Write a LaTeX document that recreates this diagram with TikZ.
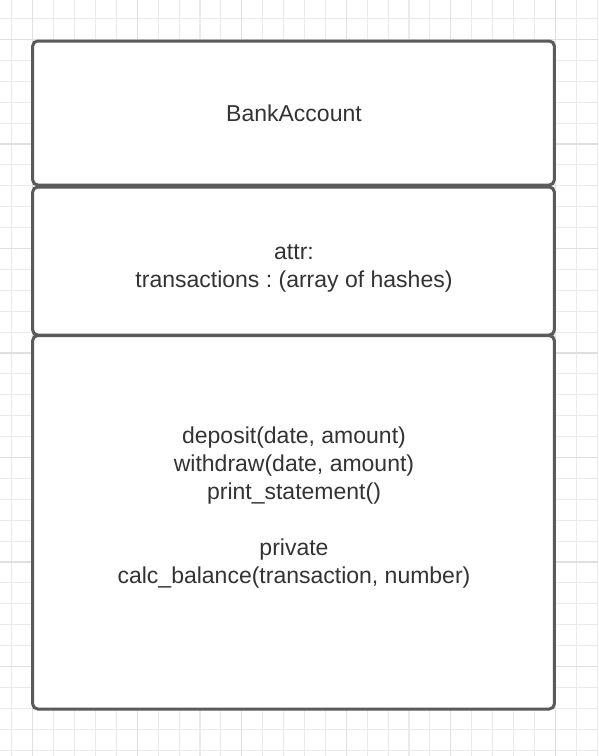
\documentclass[tikz,border=0pt]{standalone}
\usepackage{fontspec}
\setmainfont{Liberation Sans}
\frenchspacing
\definecolor{gridminor}{HTML}{EBEBEB}
\definecolor{gridmajor}{HTML}{E0E0E0}
\definecolor{boxline}{HTML}{5A5A5A}
\definecolor{txt}{HTML}{333333}
\tikzset{
  umlbox/.style={draw=boxline, line width=3pt, rounded corners=5pt, fill=white},
  umltext/.style={text=txt, font=\fontsize{23}{28}\selectfont, align=center, inner sep=0pt}
}
\begin{document}
\begin{tikzpicture}[x=1pt,y=-1pt]
\useasboundingbox (0,0) rectangle (598,756);
\fill[white] (0,0) rectangle (598,756);
% minor grid
\foreach \i in {0,...,28} {
  \draw[gridminor, line width=1.1pt] ({11.9+20.9*\i},0) -- ({11.9+20.9*\i},756);
}
\foreach \j in {0,...,35} {
  \draw[gridminor, line width=1.1pt] (0,{18.6+20.9*\j}) -- (598,{18.6+20.9*\j});
}
% major grid
\foreach \i in {0,...,5} {
  \draw[gridmajor, line width=1.1pt] ({32.8+104.5*\i},0) -- ({32.8+104.5*\i},756);
}
\foreach \j in {0,...,6} {
  \draw[gridmajor, line width=1.1pt] (0,{39.5+104.5*\j}) -- (598,{39.5+104.5*\j});
}
% boxes
\draw[umlbox] (32.7,41) rectangle (554.3,185) coordinate (b1);
\draw[umlbox] (32.7,187) rectangle (554.3,335) coordinate (b2);
\draw[umlbox] (32.7,335.5) rectangle (554.3,709) coordinate (b3);
% texts
\node[umltext] (name) at (294,113) {BankAccount};
\node[umltext] (attrs) at (294,268.5) {attr:\\transactions : (array of hashes)};
\node[umltext] (methods) at (294,508) {deposit(date, amount)\\withdraw(date, amount)\\print\_statement()\\[28pt]private\\calc\_balance(transaction, number)};
\end{tikzpicture}
\end{document}
